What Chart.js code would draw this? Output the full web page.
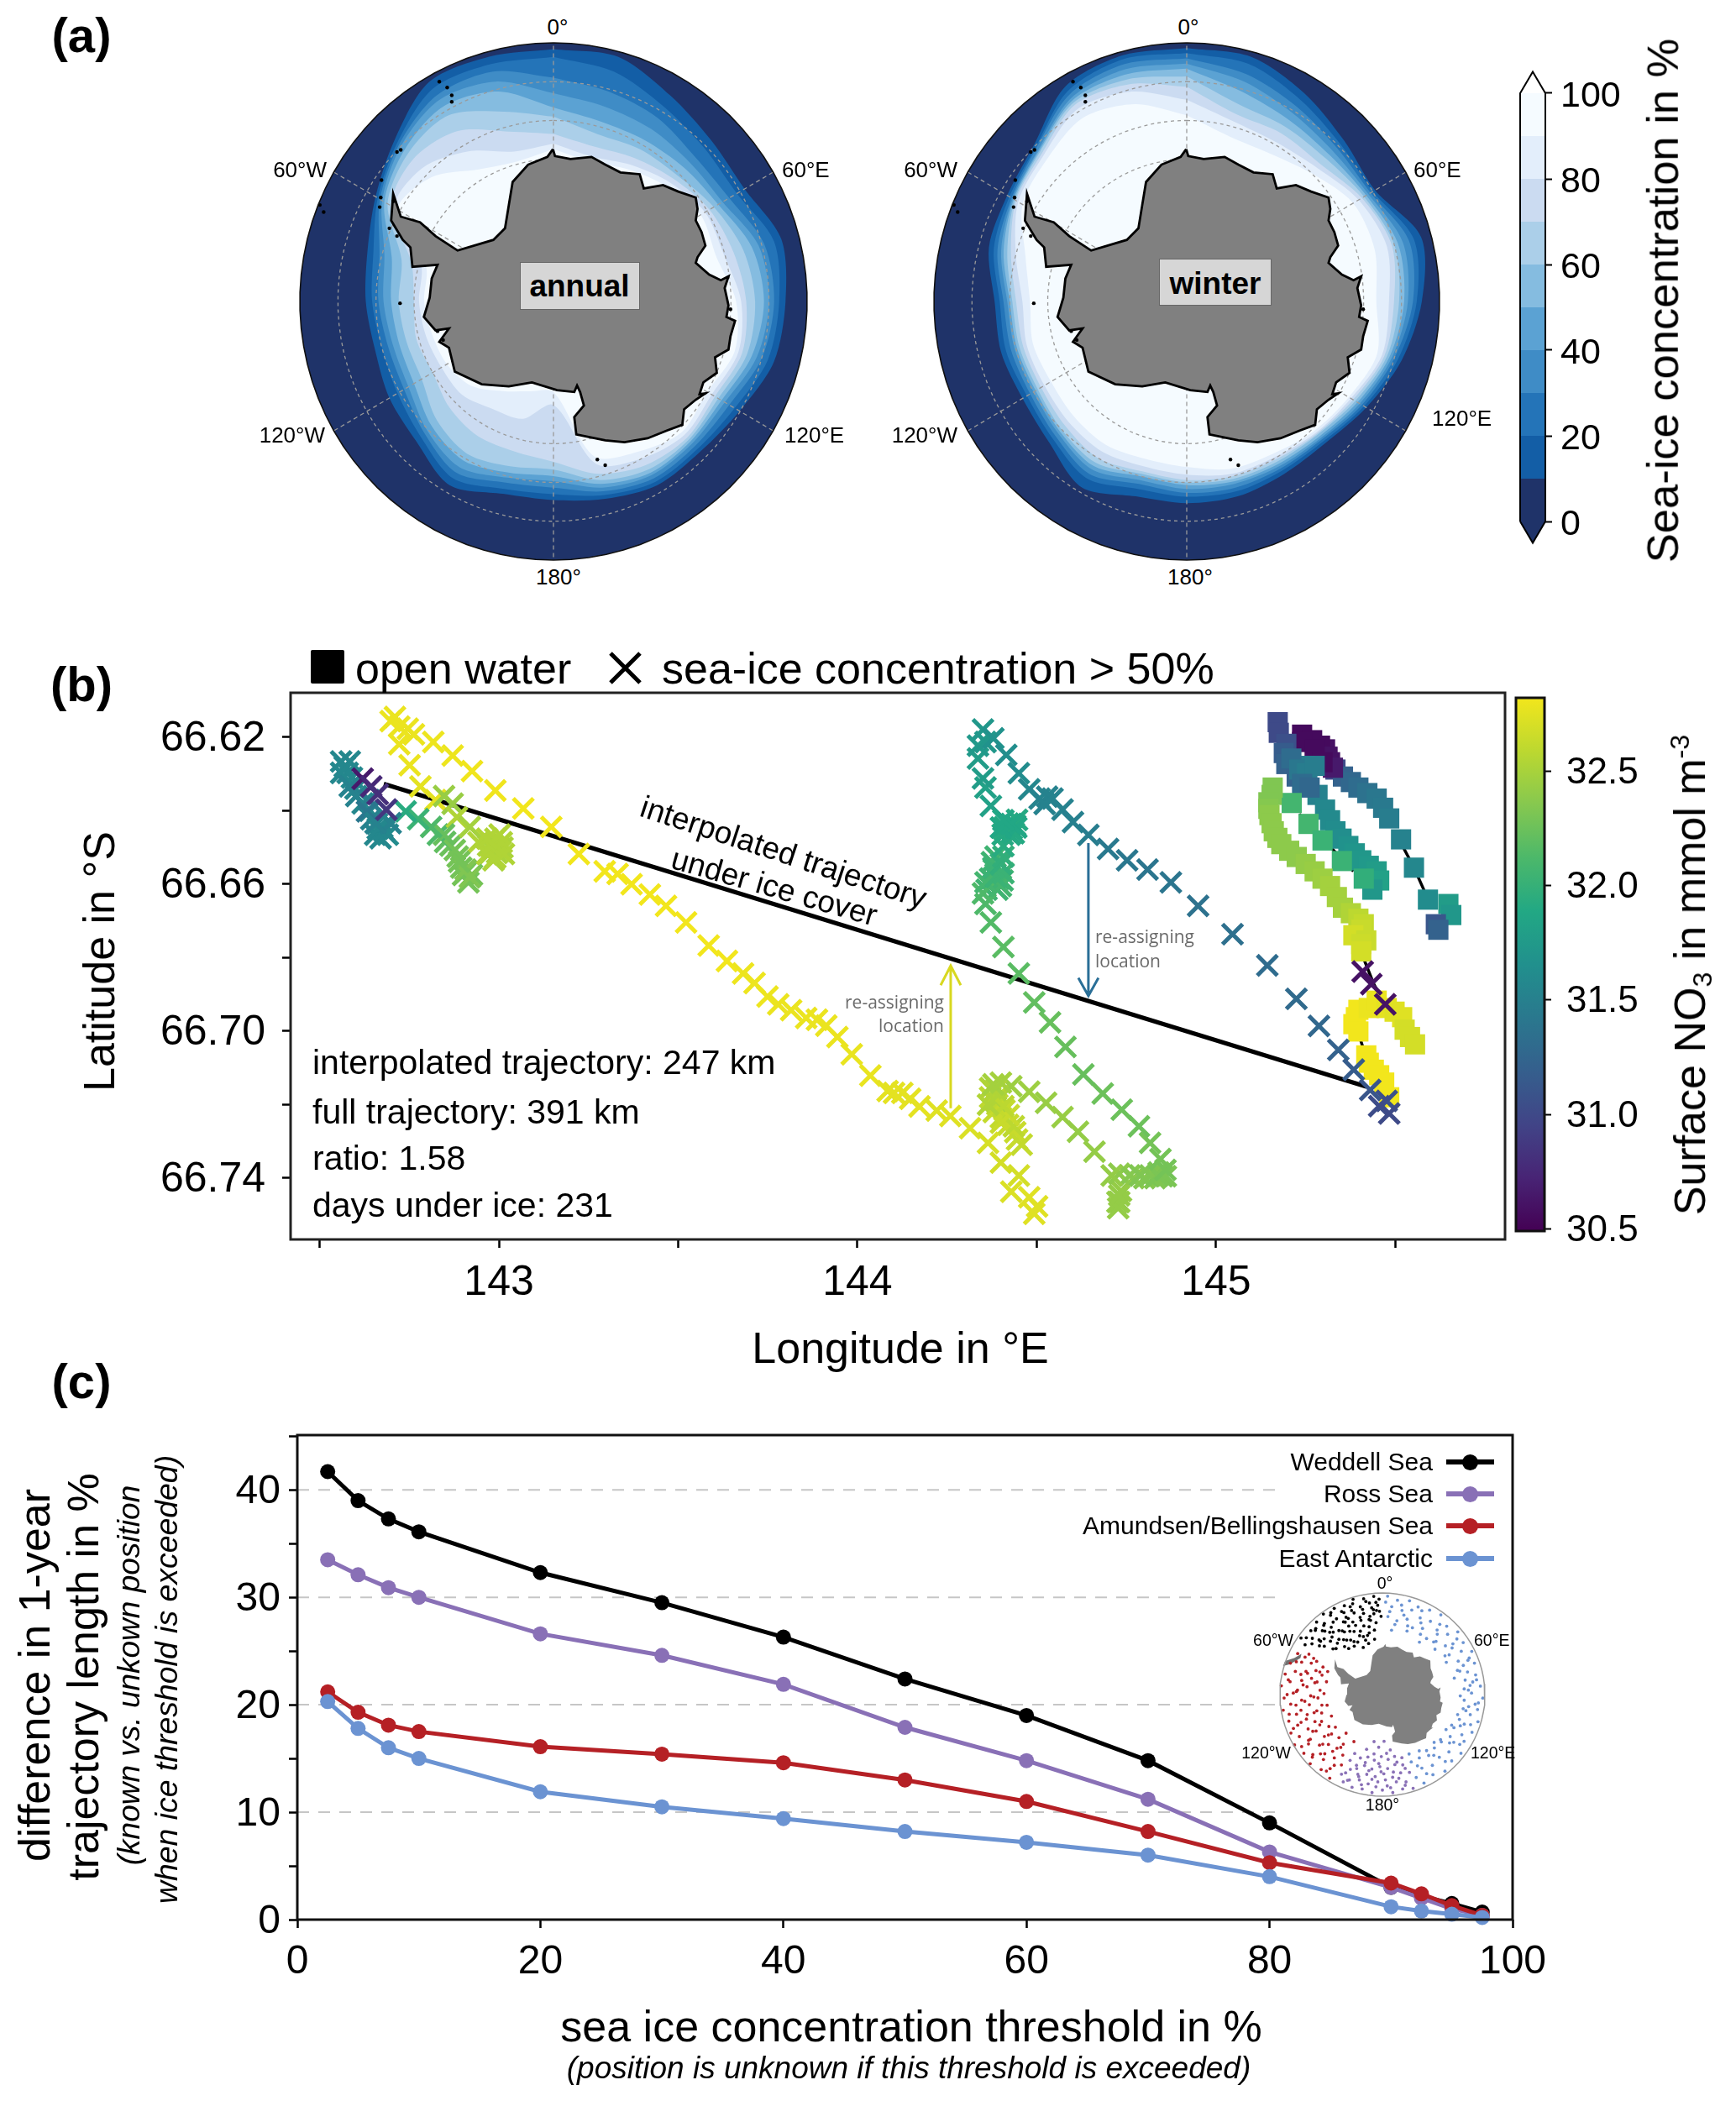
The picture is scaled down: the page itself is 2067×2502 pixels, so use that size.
<!DOCTYPE html>
<html>
<head>
<meta charset="utf-8">
<title>Sea-ice concentration and trajectory length</title>
<script src="https://cdn.jsdelivr.net/npm/chart.js@4"></script>
<style>
	html, body { margin: 0; background: #fff; }
	body { position: relative; width: 2067px; height: 2502px; overflow: hidden; font-family: "Liberation Sans", sans-serif; }
	canvas { position: absolute; }
	.txt { position: absolute; white-space: nowrap; color: #000; line-height: 1; }
</style>
</head>
<body>
<script>
// ---------- panel (a): contour radii per longitude, 100 = map rim ----------
const contourLon = [0, 15, 30, 45, 60, 75, 90, 105, 120, 135, 150, 165, 180, 195, 210, 225, 240, 255, 270, 285, 300, 315, 330, 345];

const annual10 = [97.6, 98, 92, 88, 87, 93, 91.5, 90, 84.7, 82, 82, 79, 76.8, 77, 82, 76.5, 74.7, 72.8, 74, 75.9, 81, 88.5, 98, 98];
const annual20 = [94.6, 92, 87, 84, 83.5, 90, 89, 87.5, 82.5, 80.5, 80.5, 77.5, 74.5, 75, 79, 74, 71, 70, 71.5, 73.5, 80, 87, 95, 95];
const annual30 = [86.5, 84, 82, 79, 80, 86, 87, 85, 80, 79, 79, 76, 72, 72.5, 76.5, 72, 68, 67.5, 69, 71, 79, 86, 92, 92];
const annual40 = [80.5, 78, 77, 76, 77, 83.7, 85, 83, 78, 77.5, 77.5, 74.5, 69.5, 70.5, 74, 70.5, 66, 65.5, 67, 69, 78, 85, 90, 88];
const annual50 = [75, 72, 72, 73, 75, 81, 83, 81, 76.5, 76.5, 76.5, 73, 67.5, 68.5, 71, 68, 63.5, 63, 64, 66, 77, 83, 87, 84];
const annual60 = [71.5, 67, 68, 69, 73, 77.4, 79.5, 79, 75, 75.5, 75, 71.5, 65, 66, 68, 65, 60, 60, 61, 62, 75.5, 81, 83, 76];
const annual70 = [64.8, 62, 64, 67, 71, 73.5, 76, 77, 73.5, 74.5, 73, 69, 62, 60, 60, 58, 55, 56, 55, 58, 74, 78, 76, 68];
const annual80 = [61, 58, 61, 65, 69, 69.6, 74, 75.5, 72, 73, 70, 65, 40, 47, 48, 51, 51, 52, 53, 54, 72.5, 73, 67, 60];
const annual90 = [58.9, 56, 59, 63, 67, 66.5, 72, 74, 70, 71.5, 67, 62, 35, 36, 40, 46, 48.5, 49.5, 51, 52, 71, 68, 59, 56];

const winter10 = [98, 98, 93, 88, 86, 96, 93, 88, 82, 77.5, 77, 78, 78, 78, 83, 77, 75, 76, 76, 81, 82, 85.5, 96, 98.5];
const winter20 = [96, 95, 90, 86, 85, 93, 91, 86.5, 81, 76.5, 75.5, 76, 75.5, 75, 79, 75, 73, 74, 74, 79, 81, 84.5, 94, 97];
const winter30 = [94, 91, 87, 84, 84, 91, 89.5, 85, 80, 75.5, 74.5, 74.5, 74, 73, 77, 73.5, 71.5, 72, 72.5, 77.5, 80, 84, 92.5, 95];
const winter40 = [92, 88, 84, 82, 83, 88.5, 87.5, 84, 79, 74.8, 73.5, 73, 72.5, 71.5, 75, 72, 70, 70.5, 71, 76, 79.5, 83, 91, 93];
const winter50 = [90, 84, 81, 80, 82, 86.5, 86, 83, 78, 74, 72.5, 72, 71, 70, 73.5, 71, 69, 69.5, 70, 75, 79, 82.5, 90, 91];
const winter60 = [87, 79, 78, 78, 81, 85, 84, 82, 77, 73, 71.5, 71, 70, 69, 72, 70, 68, 68.5, 69, 73.5, 78.5, 82, 89, 89];
const winter70 = [83, 75, 75, 75, 80, 84, 82, 81, 76, 72.5, 70.5, 70, 69, 68, 70, 68, 66.5, 67, 67.5, 72, 78, 81, 88, 87];
const winter80 = [78, 72, 71, 73, 78.5, 82, 80, 80, 75, 72, 69.5, 69, 67, 66, 67, 66, 65, 65.5, 65, 70, 77, 80, 86, 84];
const winter90 = [72, 66, 66, 70, 76, 77, 75, 78, 74, 71, 68, 67, 64, 63, 64, 63, 62, 63, 62, 66, 75, 78, 82, 79];

const iceLevels = [0, 10, 20, 30, 40, 50, 60, 70, 80, 90];
const iceColors = ["#1f3369", "#135ea6", "#2474b8", "#3f8cc6", "#5ba2d3", "#85bce0", "#abcfe9", "#cbdbf1", "#e3eefb", "#f5fbff"];
const iceTicks = [0, 20, 40, 60, 80, 100];

// Antarctica outline and islands in map units
const landX = [-0.2, 0.6, 6.7, 15, 20.4, 26.4, 34, 35.6, 43.2, 49.2, 56.1, 56.8, 56.1, 58.4, 59.9, 56.8, 56.1, 61.4, 66, 69, 67.5, 69, 68.2, 71.6, 69.8, 69, 63.7, 64.4, 59.1, 57.6, 59.9, 56.1, 51.5, 50.8, 44.7, 37.1, 28, 20.4, 9, 8.2, 12, 10.5, 9.3, 8.2, 1.4, -8.5, -17.6, -28.3, -38.9, -41.2, -45, -41.2, -46.5, -51.1, -48.8, -48, -45.7, -55.6, -56.4, -59.4, -64, -63.2, -60.2, -52.6, -46.5, -37.8, -23.7, -19.1, -17.6, -16.1, -10, -2.4, -0.2];
const landY = [58.9, 56.2, 55.1, 55.9, 52.9, 49.9, 49.2, 43.7, 45, 42.5, 40.2, 35.8, 31.3, 26.8, 21.6, 17.1, 14.9, 10.4, 8.2, 9.7, 5.2, -1.5, -6, -7.5, -13.4, -18.6, -21.6, -27.6, -31.3, -35.8, -35.5, -38, -41.7, -47.7, -49.9, -52.9, -54.4, -53.7, -51.4, -44.7, -40.2, -35, -32.5, -35, -34.3, -31.3, -32.8, -32, -27.1, -17.9, -15.6, -10.4, -11.2, -6, 1.5, 8.9, 14.2, 13.4, 20.9, 23.8, 31.3, 41.7, 32.8, 30.6, 25.3, 19.7, 23.8, 28.3, 37.3, 46.2, 52.9, 55.9, 58.9];
const islandX = [-60.2, -61.7, -67.8, -68.1, -68.5, -92.1, -90.6, -60.5, 17.3, 20.4, 69.8, -45, -41.9, -40.1, -40.1, -63.2, -64.7, -61.7, -45.7, -43.5];
const islandY = [58.6, 57.8, 46.9, 40.2, 36.5, 37.3, 34.6, -0.7, -61.1, -63.3, -3, 85, 82.7, 79.7, 77.2, 38.7, 28.3, 25.3, -11.5, -14.9];
const tipX = [-97, -90, -80, -79, -86, -95, -97];
const tipY = [28, 30, 36, 40, 36, 33, 28];

// ---------- panel (b): trajectory ----------
// sea-ice points (crosses), one group per stretch of the track
const mainLon = [142.71, 142.698, 142.722, 142.746, 142.763, 142.817, 142.871, 142.925, 142.99, 143.068, 143.146, 143.223, 143.295, 143.331, 143.37, 143.421, 143.466, 143.522, 143.585, 143.636, 143.681, 143.713, 143.749, 143.779, 143.815, 143.857, 143.887, 143.913, 143.944, 143.984, 144.036, 144.084, 144.102, 144.125, 144.147, 144.173, 144.221, 144.259, 144.314, 144.364, 144.4, 144.45, 144.429, 144.479, 144.493, 144.501];
const mainLat = [66.6145, 66.6156, 66.6171, 66.6177, 66.6192, 66.6213, 66.625, 66.6292, 66.6345, 66.6394, 66.6444, 66.6518, 66.6565, 66.6572, 66.66, 66.6628, 66.6659, 66.6704, 66.6767, 66.6809, 66.6843, 66.6869, 66.6906, 66.6927, 66.6943, 66.6964, 66.6969, 66.6985, 66.7016, 66.7063, 66.7121, 66.7163, 66.7168, 66.7168, 66.7184, 66.7205, 66.7216, 66.7231, 66.7264, 66.7304, 66.7358, 66.7393, 66.7437, 66.7452, 66.7497, 66.7477];
const mainNo3 = [32.75, 32.75, 32.75, 32.75, 32.75, 32.76, 32.76, 32.77, 32.77, 32.78, 32.78, 32.78, 32.78, 32.78, 32.78, 32.78, 32.78, 32.78, 32.78, 32.78, 32.76, 32.76, 32.76, 32.75, 32.75, 32.75, 32.75, 32.75, 32.75, 32.74, 32.74, 32.72, 32.72, 32.72, 32.72, 32.72, 32.7, 32.7, 32.68, 32.66, 32.65, 32.65, 32.68, 32.7, 32.7, 32.7];

const wanderLon = [144.4, 144.436, 144.458, 144.422, 144.386, 144.386, 144.379, 144.407, 144.364, 144.4];
const wanderLat = [66.7249, 66.7259, 66.7309, 66.7229, 66.719, 66.716, 66.7145, 66.7204, 66.72, 66.714];
const wanderNo3 = [32.6, 32.55, 32.58, 32.6, 32.5, 32.5, 32.45, 32.55, 32.5, 32.45];

const sideLon = [144.429, 144.479, 144.526, 144.572, 144.615, 144.661, 144.709];
const sideLat = [66.715, 66.7165, 66.7195, 66.7234, 66.7274, 66.7328, 66.7393];
const sideNo3 = [32.42, 32.42, 32.4, 32.4, 32.38, 32.38, 32.38];

const greenLon = [144.727, 144.73, 144.73, 144.759, 144.788, 144.816, 144.838, 144.859, 144.845, 144.816, 144.785, 144.737, 144.684, 144.63, 144.58, 144.537, 144.493, 144.45, 144.407, 144.372, 144.357, 144.35, 144.4, 144.357, 144.386, 144.407, 144.379, 144.4, 144.407, 144.407, 144.436, 144.415, 144.443, 144.4, 144.429, 144.407];
const greenLat = [66.7482, 66.7447, 66.7388, 66.7393, 66.7393, 66.7393, 66.7393, 66.7378, 66.7348, 66.7304, 66.7259, 66.7214, 66.717, 66.7118, 66.7043, 66.6976, 66.6922, 66.6843, 66.6771, 66.6704, 66.6654, 66.6625, 66.6605, 66.6595, 66.658, 66.657, 66.6555, 66.6545, 66.6525, 66.6496, 66.6461, 66.6456, 66.6446, 66.6446, 66.6436, 66.6426];
const greenNo3 = [32.38, 32.38, 32.35, 32.32, 32.3, 32.3, 32.28, 32.25, 32.25, 32.25, 32.22, 32.22, 32.22, 32.2, 32.2, 32.2, 32.18, 32.15, 32.15, 32.12, 32.1, 32.1, 32.05, 32.05, 32, 32, 32, 31.95, 31.95, 31.9, 31.88, 31.88, 31.85, 31.85, 31.85, 31.85];

const tealLon = [144.372, 144.357, 144.35, 144.336, 144.336, 144.357, 144.35, 144.379, 144.415, 144.45, 144.479, 144.508, 144.529, 144.544, 144.522, 144.572, 144.601, 144.644, 144.699, 144.752, 144.809, 144.874, 144.95, 145.046, 145.143, 145.224, 145.287, 145.341, 145.384, 145.43, 145.476, 145.455, 145.483];
const tealLat = [66.6387, 66.6337, 66.6312, 66.6258, 66.6223, 66.6213, 66.6179, 66.6203, 66.6248, 66.6298, 66.6342, 66.6367, 66.6362, 66.6367, 66.6382, 66.6397, 66.6431, 66.6466, 66.6504, 66.6535, 66.656, 66.6595, 66.6659, 66.6736, 66.6821, 66.6912, 66.6986, 66.7051, 66.7105, 66.716, 66.719, 66.7204, 66.7224];
const tealNo3 = [31.8, 31.8, 31.75, 31.75, 31.72, 31.7, 31.7, 31.65, 31.62, 31.6, 31.55, 31.52, 31.5, 31.5, 31.5, 31.5, 31.48, 31.45, 31.42, 31.4, 31.38, 31.38, 31.35, 31.33, 31.3, 31.28, 31.25, 31.2, 31.15, 31.1, 31.05, 31.02, 31];

const darkLon = [145.409, 145.433, 145.472];
const darkLat = [66.6838, 66.6872, 66.6927];
const darkNo3 = [30.6, 30.6, 30.6];

const westLon = [142.722, 142.751, 142.781, 142.823, 142.847, 142.871, 142.883, 142.919, 142.943, 142.967, 142.99, 143.008, 142.99, 143.014, 142.978, 143.002, 142.967, 142.919, 142.907, 142.889, 142.877, 142.847, 142.811, 142.775, 142.74, 142.584, 142.56, 142.578, 142.56, 142.584, 142.602, 142.638, 142.644, 142.68, 142.662, 142.698, 142.632, 142.656, 142.62, 142.644, 142.662, 142.686];
const westLat = [66.6219, 66.6276, 66.6334, 66.6371, 66.636, 66.6381, 66.6418, 66.6444, 66.6486, 66.6518, 66.6476, 66.6486, 66.6528, 66.6518, 66.6497, 66.6465, 66.6476, 66.6581, 66.656, 66.6539, 66.6507, 66.6465, 66.6444, 66.6423, 66.6402, 66.6266, 66.6266, 66.6297, 66.6297, 66.6334, 66.636, 66.6371, 66.6423, 66.6455, 66.6449, 66.6434, 66.6402, 66.6434, 66.6313, 66.6334, 66.6355, 66.6397];
const westNo3 = [32.75, 32.75, 32.72, 32.72, 32.4, 32.4, 32.5, 32.45, 32.5, 32.5, 32.5, 32.5, 32.5, 32.5, 32.5, 32.5, 32.5, 32.3, 32.3, 32.25, 32.25, 32.2, 32.1, 32, 31.9, 31.55, 31.55, 31.55, 31.55, 31.5, 31.5, 31.45, 31.5, 31.55, 31.55, 31.5, 31.4, 31.5, 30.65, 30.75, 30.8, 30.85];

// dense knots where the float hardly moved
const knotLon = [144.42, 144.43, 144.41, 144.44, 144.425, 144.405, 144.445, 144.38, 144.395, 144.37, 144.39, 144.375, 144.405, 144.36, 144.385, 144.38, 144.395, 144.37, 144.39, 144.41, 144.38, 144.4, 144.42, 144.44, 144.445, 144.37, 144.84, 144.85, 144.86, 144.83, 144.8, 144.77, 144.73, 144.725, 144.735, 142.985, 143, 142.975, 142.995, 143.005, 142.985, 142.97, 143.01, 142.91, 142.925, 142.9, 142.915, 142.895, 142.885, 142.865, 142.85, 142.83, 142.66, 142.675, 142.69, 142.655, 142.67, 142.64, 142.62, 142.6, 142.57, 142.59];
const knotLat = [66.6435, 66.645, 66.6445, 66.644, 66.6465, 66.6465, 66.6425, 66.656, 66.6585, 66.6585, 66.6615, 66.654, 66.659, 66.6615, 66.6525, 66.7165, 66.7175, 66.718, 66.72, 66.7215, 66.722, 66.7235, 66.7255, 66.7275, 66.7295, 66.7155, 66.7385, 66.7395, 66.7395, 66.74, 66.74, 66.74, 66.7465, 66.7465, 66.7435, 66.65, 66.65, 66.6515, 66.6515, 66.651, 66.6535, 66.6495, 66.65, 66.6565, 66.6575, 66.6575, 66.6595, 66.6555, 66.6525, 66.6495, 66.6485, 66.6465, 66.6435, 66.6445, 66.6465, 66.6465, 66.6475, 66.64, 66.638, 66.634, 66.628, 66.631];
const knotNo3 = [31.88, 31.88, 31.88, 31.88, 31.88, 31.88, 31.88, 32.02, 32.02, 32.02, 32.02, 32.02, 32.02, 32.02, 32.02, 32.55, 32.55, 32.55, 32.55, 32.58, 32.58, 32.58, 32.6, 32.6, 32.6, 32.5, 32.28, 32.28, 32.28, 32.3, 32.32, 32.34, 32.38, 32.38, 32.38, 32.48, 32.48, 32.48, 32.48, 32.48, 32.48, 32.48, 32.48, 32.25, 32.25, 32.25, 32.25, 32.25, 32.25, 32.22, 32.18, 32.1, 31.55, 31.55, 31.6, 31.55, 31.55, 31.5, 31.55, 31.55, 31.55, 31.55];

// open water points (squares)
const upperLon = [145.24, 145.268, 145.304, 145.318, 145.333, 145.354, 145.376, 145.397, 145.422, 145.448, 145.466, 145.483, 145.516, 145.552, 145.591, 145.648, 145.656, 145.613, 145.62, 145.29, 145.311, 145.326, 145.24, 145.275, 145.297];
const upperLat = [66.6193, 66.6208, 66.6233, 66.6268, 66.6288, 66.6307, 66.6322, 66.6337, 66.6352, 66.6367, 66.6392, 66.6421, 66.6478, 66.6555, 66.6642, 66.6654, 66.6684, 66.6709, 66.6724, 66.6223, 66.6253, 66.6283, 66.6213, 66.6233, 66.6268];
const upperNo3 = [30.55, 30.55, 30.6, 30.6, 31, 31.2, 31.25, 31.3, 31.35, 31.4, 31.42, 31.45, 31.5, 31.55, 31.6, 31.75, 31.7, 31.1, 31.2, 30.55, 30.6, 30.65, 30.55, 30.55, 30.55];

const lowerLon = [145.172, 145.175, 145.196, 145.189, 145.196, 145.225, 145.247, 145.254, 145.283, 145.304, 145.318, 145.333, 145.35, 145.369, 145.387, 145.405, 145.426, 145.448, 145.455, 145.436, 145.21, 145.232, 145.254, 145.275, 145.24, 145.261];
const lowerLat = [66.6159, 66.6188, 66.6218, 66.6243, 66.6273, 66.6307, 66.6278, 66.6317, 66.6357, 66.6397, 66.6426, 66.6456, 66.6476, 66.6496, 66.6516, 66.6535, 66.655, 66.6565, 66.659, 66.6615, 66.6258, 66.6288, 66.6298, 66.6278, 66.6327, 66.6337];
const lowerNo3 = [31, 31, 31.05, 31.15, 31.2, 31.2, 31.45, 31.35, 31.5, 31.55, 31.58, 31.6, 31.62, 31.65, 31.68, 31.7, 31.72, 31.75, 31.8, 31.7, 31.3, 31.4, 31.45, 31.45, 31.3, 31.25];

const midLon = [145.211, 145.258, 145.297, 145.351, 145.412];
const midLat = [66.6379, 66.6436, 66.6481, 66.6537, 66.6585];
const midNo3 = [32.05, 32.05, 32, 32, 31.95];

const limeLon = [145.158, 145.155, 145.146, 145.146, 145.149, 145.155, 145.161, 145.171, 145.182, 145.204, 145.225, 145.25, 145.275, 145.297, 145.318, 145.337, 145.354, 145.376, 145.397, 145.412, 145.405, 145.383, 145.419, 145.405, 145.405];
const limeLat = [66.6337, 66.6357, 66.6377, 66.6395, 66.6412, 66.6434, 66.6456, 66.6474, 66.6491, 66.6509, 66.6526, 66.6545, 66.6565, 66.6585, 66.6605, 66.6635, 66.6664, 66.6679, 66.6694, 66.6709, 66.6724, 66.6739, 66.6753, 66.6763, 66.6783];
const limeNo3 = [32.3, 32.3, 32.3, 32.32, 32.35, 32.35, 32.35, 32.35, 32.35, 32.35, 32.35, 32.38, 32.4, 32.42, 32.45, 32.45, 32.45, 32.5, 32.55, 32.58, 32.6, 32.65, 32.6, 32.62, 32.65];

const yellowLon = [145.39, 145.383, 145.397, 145.397, 145.426, 145.448, 145.476, 145.498, 145.519, 145.526, 145.541, 145.555, 145.419, 145.426, 145.44, 145.455, 145.469, 145.483];
const yellowLat = [66.6962, 66.6981, 66.7001, 66.6942, 66.6937, 66.6917, 66.6937, 66.6947, 66.6962, 66.6996, 66.7016, 66.7036, 66.7066, 66.7086, 66.7105, 66.712, 66.714, 66.718];
const yellowNo3 = [32.8, 32.8, 32.8, 32.78, 32.75, 32.75, 32.72, 32.7, 32.7, 32.65, 32.65, 32.65, 32.8, 32.8, 32.8, 32.8, 32.8, 32.8];

// interpolated straight line and the visible bits of the drift under the squares
const interpLon = [142.679, 145.419];
const interpLat = [66.6327, 66.7151];
const driftLon = [145.512, 145.552, 145.584, null, 145.412, 145.44, 145.472, null, 145.402, 145.412, null, 145.232, 145.326, 145.383];
const driftLat = [66.6481, 66.6555, 66.6625, null, 66.6803, 66.6872, 66.6927, null, 66.7021, 66.7051, null, 66.6409, 66.6506, 66.6565];

// re-assigning arrows
const arrowUpLon = [144.26, 144.26, null, 144.232, 144.26, 144.288];
const arrowUpLat = [66.721, 66.6822, null, 66.6875, 66.6822, 66.6875];
const arrowDownLon = [144.644, 144.644, null, 144.616, 144.644, 144.672];
const arrowDownLat = [66.6488, 66.6904, null, 66.6855, 66.6904, 66.6855];

const lonTicks = [142.5, 143, 143.5, 144, 144.5, 145, 145.5];
const lonTickLabels = ["", "143", "", "144", "", "145", ""];
const latTicks = [66.62, 66.64, 66.66, 66.68, 66.70, 66.72, 66.74];
const latTickLabels = ["66.62", "", "66.66", "", "66.70", "", "66.74"];
const no3Ticks = [30.5, 31, 31.5, 32, 32.5];
const viridisStops = ["#440154", "#482475", "#414487", "#355f8d", "#2a788e", "#21908d", "#22a884", "#4cb86a", "#86c84f", "#bcd830", "#f2e61c"];

// ---------- panel (c) ----------
const thresholds = [2.5, 5, 7.5, 10, 20, 30, 40, 50, 60, 70, 80, 90, 92.5, 95, 97.5];
const weddell = [41.7, 39, 37.3, 36.1, 32.3, 29.5, 26.3, 22.4, 19, 14.8, 9, 3, 2.2, 1.5, 0.7];
const ross = [33.5, 32.1, 30.9, 30, 26.6, 24.6, 21.9, 17.9, 14.8, 11.2, 6.3, 3, 2, 1, 0.4];
const amundsen = [21.2, 19.3, 18.1, 17.5, 16.1, 15.4, 14.6, 13, 11, 8.2, 5.3, 3.4, 2.4, 1.3, 0.4];
const eastAnt = [20.3, 17.8, 16, 15, 11.9, 10.5, 9.4, 8.2, 7.2, 6, 4, 1.2, 0.8, 0.5, 0.2];
const dashLevels = [10, 20, 30, 40];
const dashEnd = 80.5;
const thresholdTicks = [0, 20, 40, 60, 80, 100];
const diffTicks = [0, 5, 10, 15, 20, 25, 30, 35, 40, 45];
const diffTickLabels = ["0", "", "10", "", "20", "", "30", "", "40", ""];

// inset map: sample positions per basin, as longitude and radius
const blackLon = [305, 312, 318, 324, 331, 337, 343, 349, 355, 358, 303, 309, 315, 321, 327, 334, 340, 346, 352, 357, 306, 311, 317, 323, 329, 335, 341, 347, 353, 356, 308, 314, 320, 326, 332, 338, 344, 350, 354, 359, 310, 316, 322, 328, 333, 339, 345, 351, 355, 313, 319, 325, 330, 336, 342, 348, 315, 322, 330, 338, 345, 352, 335, 343, 307, 314, 320, 328, 335, 342, 350, 356, 318, 326, 333, 340, 347, 354, 322, 329, 336, 344, 351, 358, 311, 319, 327, 334, 341, 349, 324, 332, 339, 346, 353];
const blackR = [97, 94, 96, 98, 97, 95, 98, 96, 97, 94, 90, 88, 92, 90, 93, 91, 92, 89, 91, 88, 85, 82, 86, 83, 87, 84, 85, 82, 86, 83, 78, 79, 80, 76, 81, 77, 79, 75, 80, 77, 74, 73, 69, 74, 70, 73, 70, 74, 71, 66, 67, 66, 62, 68, 60, 62, 64, 60, 55, 50, 52, 55, 57, 56, 93, 91, 89, 95, 89, 94, 93, 91, 84, 86, 80, 88, 86, 84, 78, 72, 82, 76, 78, 82, 80, 75, 64, 75, 66, 68, 56, 59, 62, 60, 64];
const eastLon = [3, 9, 16, 22, 29, 36, 43, 50, 57, 64, 71, 78, 85, 92, 99, 106, 113, 120, 127, 134, 141, 148, 155, 6, 13, 19, 26, 33, 40, 47, 54, 61, 68, 75, 82, 89, 96, 103, 110, 117, 124, 131, 138, 145, 152, 158, 4, 11, 18, 24, 31, 38, 45, 52, 59, 66, 73, 80, 87, 94, 101, 108, 115, 122, 129, 136, 143, 150, 8, 21, 35, 49, 63, 77, 91, 105, 119, 133, 147, 156, 2, 12, 25, 39, 53, 67, 81, 95, 109, 123, 137, 151, 5, 15, 28, 42, 56, 70, 84, 98, 112, 126, 140, 154, 10, 20, 32, 44, 58, 72, 86, 100, 114, 128, 142, 157];
const eastR = [97, 94, 96, 93, 95, 97, 92, 96, 94, 97, 95, 93, 96, 98, 94, 97, 95, 92, 96, 94, 97, 93, 96, 87, 85, 88, 84, 86, 83, 87, 85, 88, 90, 86, 89, 87, 91, 88, 85, 87, 84, 86, 83, 85, 82, 88, 77, 74, 78, 72, 76, 70, 74, 78, 76, 81, 79, 82, 84, 80, 83, 79, 77, 78, 74, 73, 75, 72, 64, 67, 63, 68, 70, 72, 76, 76, 71, 69, 66, 64, 91, 90, 91, 89, 91, 92, 93, 94, 91, 90, 90, 89, 82, 81, 80, 80, 82, 84, 86, 85, 82, 81, 78, 78, 70, 72, 70, 72, 72, 77, 80, 80, 74, 72, 70, 72];
const redLon = [212, 219, 226, 233, 240, 247, 254, 261, 268, 275, 282, 289, 296, 215, 222, 229, 236, 243, 250, 257, 264, 271, 278, 285, 292, 299, 210, 217, 224, 231, 238, 245, 252, 259, 266, 273, 280, 287, 294, 213, 220, 227, 234, 241, 248, 255, 262, 269, 276, 283, 290, 297, 218, 225, 232, 239, 246, 253, 260, 267, 274, 281, 288, 295, 211, 223, 235, 247, 259, 271, 283, 293, 216, 228, 237, 249, 258, 270, 279, 291, 214, 226, 238, 251, 263, 272, 284, 296, 221, 230, 242, 255, 265, 277, 286, 298, 218, 233, 244, 256, 268, 280, 290];
const redR = [97, 95, 98, 96, 99, 97, 95, 98, 96, 99, 97, 95, 92, 89, 86, 90, 87, 91, 88, 86, 90, 87, 91, 88, 85, 82, 80, 78, 81, 79, 83, 80, 78, 81, 79, 83, 80, 78, 76, 71, 69, 72, 70, 74, 71, 69, 72, 70, 74, 71, 69, 72, 62, 60, 63, 61, 65, 62, 60, 63, 61, 65, 62, 64, 54, 52, 56, 54, 55, 57, 56, 58, 93, 92, 94, 93, 93, 93, 93, 90, 84, 84, 85, 84, 85, 84, 82, 84, 74, 76, 77, 76, 76, 78, 76, 76, 66, 66, 68, 66, 67, 67, 65];
const purpleLon = [162, 168, 174, 180, 186, 192, 198, 204, 165, 171, 177, 183, 189, 195, 201, 207, 161, 167, 173, 179, 185, 191, 197, 203, 164, 170, 176, 182, 188, 194, 200, 206, 163, 169, 175, 181, 187, 193, 199, 205, 172, 184, 196, 178, 190, 166, 175, 184, 193, 202, 169, 178, 187, 196, 205, 163, 172, 181, 190, 199, 168, 183, 194, 176, 188];
const purpleR = [97, 95, 97, 94, 97, 95, 96, 94, 89, 87, 90, 86, 89, 87, 90, 88, 81, 79, 82, 78, 81, 80, 82, 80, 72, 70, 73, 71, 74, 72, 74, 72, 65, 62, 64, 61, 65, 63, 66, 64, 55, 52, 56, 46, 47, 92, 92, 91, 91, 91, 84, 84, 84, 84, 85, 76, 77, 76, 76, 77, 68, 68, 69, 58, 59];

// ---------- helpers ----------
Chart.defaults.font.family = "'Liberation Sans', sans-serif";
Chart.defaults.color = "#000";
Chart.defaults.animation = false;

function addCanvas(left, top, width, height) {
	const c = document.createElement("canvas");
	c.width = width;
	c.height = height;
	c.style.left = left + "px";
	c.style.top = top + "px";
	document.body.appendChild(c);
	return c;
}

// opts: align l/c/r, rot in degrees, bold, italic, color, font
function addText(html, x, y, size, opts = {}) {
	const d = document.createElement("div");
	d.className = "txt";
	d.innerHTML = html;
	d.style.left = x + "px";
	d.style.top = y + "px";
	d.style.fontSize = size + "px";
	if (opts.bold) d.style.fontWeight = "bold";
	if (opts.italic) d.style.fontStyle = "italic";
	if (opts.color) d.style.color = opts.color;
	if (opts.font) d.style.fontFamily = opts.font;
	const shift = { l: "0", c: "-50%", r: "-100%" }[opts.align || "c"];
	d.style.transform = `translate(${shift}, -50%)` + (opts.rot ? ` rotate(${opts.rot}deg)` : "");
	document.body.appendChild(d);
	return d;
}

function addBox(x, y, w, h, css) {
	const d = document.createElement("div");
	d.style.cssText = `position:absolute;left:${x}px;top:${y}px;width:${w}px;height:${h}px;box-sizing:border-box;${css}`;
	document.body.appendChild(d);
	return d;
}

function zipPoints(xs, ys) {
	return xs.map((x, i) => ({ x: x, y: ys[i] }));
}

// longitude / radius to map coordinates, 0° up and east to the right
function polarPoints(lons, radii) {
	return lons.map((lon, i) => ({
		x: radii[i] * Math.sin(lon * Math.PI / 180),
		y: radii[i] * Math.cos(lon * Math.PI / 180)
	}));
}

function closeLoop(points) {
	return points.concat([points[0]]);
}

function circlePoints(r) {
	const pts = [];
	for (let a = 0; a <= 360; a += 4) pts.push(polarPoints([a], [r])[0]);
	return pts;
}

function viridis(v, lo = 30.49, hi = 32.78) {
	const t = Math.min(Math.max((v - lo) / (hi - lo), 0), 1) * (viridisStops.length - 1);
	const i = Math.min(Math.floor(t), viridisStops.length - 2);
	const f = t - i;
	const rgb = s => [1, 3, 5].map(k => parseInt(s.substr(k, 2), 16));
	const a = rgb(viridisStops[i]), b = rgb(viridisStops[i + 1]);
	return `rgb(${a.map((c, k) => Math.round(c + (b[k] - c) * f)).join(",")})`;
}

// plain box round the plot area
const framePlugin = {
	id: "frame",
	afterDatasetsDraw(chart, args, opts) {
		if (!opts.width) return;
		const { left, top, width, height } = chart.chartArea;
		const ctx = chart.ctx;
		ctx.save();
		ctx.strokeStyle = opts.color || "#000";
		ctx.lineWidth = opts.width;
		ctx.strokeRect(left, top, width, height);
		ctx.restore();
	}
};
Chart.register(framePlugin);

function fixedAxis(values, labels, extra) {
	return Object.assign({
		afterBuildTicks: s => { s.ticks = values.map(v => ({ value: v })); },
		grid: { drawOnChartArea: false, drawTicks: true, tickLength: 10, tickColor: "#000", tickWidth: 2.5 },
		border: { display: false },
		ticks: { autoSkip: false, maxRotation: 0, minRotation: 0, callback: (v, i) => labels[i] }
	}, extra);
}

function polygon(points, color, extra) {
	return Object.assign({
		data: points, showLine: true, fill: "shape", backgroundColor: color,
		borderWidth: 0, pointRadius: 0, tension: 0, clip: false
	}, extra);
}

function strokeLine(points, color, width, extra) {
	return Object.assign({
		data: points, showLine: true, fill: false, borderColor: color,
		borderWidth: width, pointRadius: 0, tension: 0, clip: false
	}, extra);
}

function hiddenAxis(min, max) {
	return { type: "linear", display: false, min: min, max: max };
}

function drawMap(left, width, levels) {
	const gratColor = "#9a9a9a";
	const datasets = [];
	// first dataset ends up on top
	datasets.push(strokeLine(closeLoop(circlePoints(100)), "#111", 1.6));
	datasets.push({ data: zipPoints(islandX, islandY), pointRadius: 2.2, pointBackgroundColor: "#000", pointBorderWidth: 0, clip: false });
	datasets.push(polygon(zipPoints(landX, landY), "#808080", { borderColor: "#000", borderWidth: 2.8 }));
	[55, 70, 85].forEach(r => datasets.push(strokeLine(circlePoints(r), gratColor, 1.3, { borderDash: [4, 4] })));
	[0, 60, 120, 180, 240, 300].forEach(lon => {
		datasets.push(strokeLine(polarPoints([lon, lon], [30, 100]), gratColor, 1.3, { borderDash: [5, 4] }));
	});
	for (let i = levels.length - 1; i >= 0; i--) {
		datasets.push(polygon(closeLoop(polarPoints(contourLon, levels[i])), iceColors[i + 1], { tension: 0.3 }));
	}
	datasets.push(polygon(closeLoop(circlePoints(100)), iceColors[0]));
	new Chart(addCanvas(left, 47, width, 624), {
		type: "scatter",
		data: { datasets: datasets },
		options: {
			responsive: false,
			layout: { padding: 4 },
			scales: { x: hiddenAxis(-100, 100), y: hiddenAxis(-100, 100) },
			plugins: { legend: { display: false }, tooltip: { enabled: false } }
		}
	});
}

// ---------- panel (a) ----------
drawMap(353, 612, [annual10, annual20, annual30, annual40, annual50, annual60, annual70, annual80, annual90]);
drawMap(1108, 610, [winter10, winter20, winter30, winter40, winter50, winter60, winter70, winter80, winter90]);

addBox(619, 312, 143, 57, "background:#d6d6d6;border:1.5px solid #666;");
addText("annual", 690, 340, 37, { bold: true });
addBox(1380, 308, 134, 56, "background:#d6d6d6;border:1.5px solid #666;");
addText("winter", 1447, 337, 37, { bold: true });

[
	["0°", 664, 32, "c"], ["60°E", 931, 202, "l"], ["120°E", 934, 518, "l"],
	["180°", 665, 687, "c"], ["60°W", 389, 202, "r"], ["120°W", 387, 518, "r"],
	["0°", 1415, 32, "c"], ["60°E", 1683, 202, "l"], ["120°E", 1705, 498, "l"],
	["180°", 1417, 687, "c"], ["60°W", 1140, 202, "r"], ["120°W", 1140, 518, "r"]
].forEach(t => addText(t[0], t[1], t[2], 26, { align: t[3] }));

// sea-ice colour bar with its two end triangles
const iceBarSets = [strokeLine(
	zipPoints([0, 0.5, 1, 1, 0.5, 0, 0], [0, -5, 0, 100, 105, 100, 0]), "#000", 2)];
iceBarSets.push(polygon(zipPoints([0, 0.5, 1, 0], [100, 105, 100, 100]), "#fff"));
iceLevels.forEach((lo, i) => {
	iceBarSets.push(polygon(zipPoints([0, 1, 1, 0, 0], [lo, lo, lo + 10, lo + 10, lo]), iceColors[i]));
});
iceBarSets.push(polygon(zipPoints([0, 0.5, 1, 0], [0, -5, 0, 0]), iceColors[0]));
new Chart(addCanvas(1800, 40, 220, 660), {
	type: "scatter",
	data: { datasets: iceBarSets },
	options: {
		responsive: false,
		layout: { padding: { left: 10, top: 45.5, bottom: 53.5 } },
		scales: {
			x: hiddenAxis(0, 1),
			y: fixedAxis(iceTicks, iceTicks.map(String), {
				position: "right", min: -5, max: 105,
				afterFit: s => { s.width = 180; },
				ticks: { autoSkip: false, padding: 10, labelOffset: 4, font: { size: 43 }, callback: (v, i) => String(iceTicks[i]) },
				grid: { drawOnChartArea: false, tickLength: 8, tickColor: "#000", tickWidth: 2 }
			})
		},
		plugins: { legend: { display: false }, tooltip: { enabled: false } }
	}
});
addText("Sea-ice concentration in %", 1980, 358, 52.5, { rot: -90 });

addText("(a)", 97, 42, 58, { bold: true });
addText("(b)", 97, 815, 58, { bold: true });
addText("(c)", 97, 1645, 58, { bold: true });

// ---------- panel (b) ----------
const crossSets = [
	[mainLon, mainLat, mainNo3], [wanderLon, wanderLat, wanderNo3], [sideLon, sideLat, sideNo3],
	[greenLon, greenLat, greenNo3], [tealLon, tealLat, tealNo3], [darkLon, darkLat, darkNo3],
	[westLon, westLat, westNo3], [knotLon, knotLat, knotNo3]
];
const squareSets = [
	[yellowLon, yellowLat, yellowNo3], [limeLon, limeLat, limeNo3], [midLon, midLat, midNo3],
	[lowerLon, lowerLat, lowerNo3], [upperLon, upperLat, upperNo3]
];
const trajectorySets = [];
crossSets.forEach(s => trajectorySets.push({
	data: zipPoints(s[0], s[1]), pointStyle: "crossRot", pointRadius: 17,
	pointBorderColor: s[2].map(v => viridis(v)), pointBorderWidth: 5, pointBackgroundColor: "transparent"
}));
trajectorySets.push(strokeLine(zipPoints(arrowUpLon, arrowUpLat), "#d8d820", 3));
trajectorySets.push(strokeLine(zipPoints(arrowDownLon, arrowDownLat), "#2a6f97", 3));
trajectorySets.push(strokeLine(zipPoints(interpLon, interpLat), "#000", 5));
squareSets.forEach(s => trajectorySets.push({
	data: zipPoints(s[0], s[1]), pointStyle: "rect", pointRadius: 17,
	pointBackgroundColor: s[2].map(v => viridis(v)), pointBorderWidth: 0
}));
trajectorySets.push(strokeLine(zipPoints(driftLon, driftLat), "#000", 3.5));

new Chart(addCanvas(0, 760, 2067, 860), {
	type: "scatter",
	data: { datasets: trajectorySets },
	options: {
		responsive: false,
		layout: { padding: { top: 65, right: 275 } },
		scales: {
			x: fixedAxis(lonTicks, lonTickLabels, {
				min: 142.419, max: 145.806,
				afterFit: s => { s.height = 144; },
				ticks: { autoSkip: false, maxRotation: 0, padding: 12, font: { size: 50 }, callback: (v, i) => lonTickLabels[i] }
			}),
			y: fixedAxis(latTicks, latTickLabels, {
				min: 66.6079, max: 66.7567, reverse: true,
				afterFit: s => { s.width = 346; },
				ticks: { autoSkip: false, padding: 20, labelOffset: 2, font: { size: 50 }, callback: (v, i) => latTickLabels[i] }
			})
		},
		plugins: {
			legend: { display: false }, tooltip: { enabled: false },
			frame: { width: 3, color: "#222" }
		}
	}
});

// viridis colour bar
const no3Canvas = addCanvas(1795, 780, 230, 750);
const no3Gradient = no3Canvas.getContext("2d").createLinearGradient(0, 686, 0, 51);
viridisStops.forEach((c, i) => no3Gradient.addColorStop(i / (viridisStops.length - 1), c));
new Chart(no3Canvas, {
	type: "scatter",
	data: { datasets: [polygon(zipPoints([0, 1, 1, 0, 0], [30.49, 30.49, 32.82, 32.82, 30.49]), no3Gradient)] },
	options: {
		responsive: false,
		layout: { padding: { left: 10, top: 51, bottom: 64 } },
		scales: {
			x: hiddenAxis(0, 1),
			y: fixedAxis(no3Ticks, [], {
				position: "right", min: 30.49, max: 32.82,
				afterFit: s => { s.width = 186; },
				ticks: { autoSkip: false, padding: 18, labelOffset: 2.5, font: { size: 44 }, callback: (v, i) => no3Ticks[i].toFixed(1) },
				grid: { drawOnChartArea: false, tickLength: 8, tickColor: "#000", tickWidth: 2 }
			})
		},
		plugins: {
			legend: { display: false }, tooltip: { enabled: false },
			frame: { width: 3, color: "#111" }
		}
	}
});

addBox(370, 774, 40, 40, "background:#000;border-radius:2px;");
addText("open water", 423, 796, 52, { align: "l" });
const xMark = addBox(725, 776, 39, 39, "");
xMark.innerHTML = '<svg width="39" height="39"><path d="M2 2L37 37M37 2L2 37" stroke="#000" stroke-width="5"/></svg>';
addText("sea-ice concentration &gt; 50%", 788, 796, 52, { align: "l" });

addText("Latitude in °S", 118, 1145, 52, { rot: -90 });
addText("Longitude in °E", 1072, 1605, 52);
addText("Surface NO<sub style='font-size:0.62em;vertical-align:-0.25em;line-height:0'>3</sub> in mmol m<sup style='font-size:0.62em;vertical-align:0.6em;line-height:0'>-3</sup>", 2012, 1161, 52, { rot: -90 });

addText("interpolated trajectory", 933, 1015, 37, { rot: 18.2 });
addText("under ice cover", 922, 1056, 37, { rot: 16 });
addText("interpolated trajectory: 247 km", 372, 1265, 41, { align: "l" });
addText("full trajectory: 391 km", 372, 1324, 41, { align: "l" });
addText("ratio: 1.58", 372, 1379, 41, { align: "l" });
addText("days under ice: 231", 372, 1435, 41, { align: "l" });

const noteStyle = { font: "'Open Sans', sans-serif", color: "#6a6a6a" };
addText("re-assigning", 1124, 1193, 21, Object.assign({ align: "r" }, noteStyle));
addText("location", 1124, 1221, 21, Object.assign({ align: "r" }, noteStyle));
addText("re-assigning", 1304, 1115, 21, Object.assign({ align: "l" }, noteStyle));
addText("location", 1304, 1144, 21, Object.assign({ align: "l" }, noteStyle));

// ---------- panel (c) ----------
const lineSeries = [
	[eastAnt, "#6b93d2"], [amundsen, "#b52025"], [ross, "#8970b6"], [weddell, "#000000"]
];
const diffSets = lineSeries.map(s => ({
	data: zipPoints(thresholds, s[0]), showLine: true, fill: false, tension: 0, borderColor: s[1], borderWidth: 5,
	pointRadius: 9, pointBackgroundColor: s[1], pointBorderWidth: 0, clip: false
}));
dashLevels.forEach(level => {
	diffSets.push(strokeLine(zipPoints([0, dashEnd], [level, level]), "#c6c6c6", 2, { borderDash: [14, 11] }));
});

new Chart(addCanvas(0, 1650, 2067, 852), {
	type: "scatter",
	data: { datasets: diffSets },
	options: {
		responsive: false,
		layout: { padding: { top: 59, right: 266 } },
		scales: {
			x: fixedAxis(thresholdTicks, thresholdTicks.map(String), {
				min: 0, max: 100,
				afterFit: s => { s.height = 216; },
				ticks: { autoSkip: false, maxRotation: 0, padding: 12, font: { size: 48 }, callback: (v, i) => String(thresholdTicks[i]) }
			}),
			y: fixedAxis(diffTicks, diffTickLabels, {
				min: 0, max: 45.1,
				afterFit: s => { s.width = 354; },
				ticks: { autoSkip: false, padding: 10, labelOffset: 3, font: { size: 48 }, callback: (v, i) => diffTickLabels[i] }
			})
		},
		plugins: {
			legend: { display: false }, tooltip: { enabled: false },
			frame: { width: 3, color: "#111" }
		}
	}
});

addText("difference in 1-year", 41, 1995, 52, { rot: -90 });
addText("trajectory length in %", 99, 1997, 52, { rot: -90 });
addText("(known vs. unkown position", 153, 1995, 37, { rot: -90, italic: true });
addText("when ice threshold is exceeded)", 199, 2000, 37.4, { rot: -90, italic: true });
addText("sea ice concentration threshold in %", 1085, 2413, 52);
addText("(position is unknown if this threshold is exceeded)", 1082, 2462, 37, { italic: true });

// legend, keys made of plain boxes
[
	["Weddell Sea", 1741, "#000000"], ["Ross Sea", 1779, "#8970b6"],
	["Amundsen/Bellingshausen Sea", 1817, "#b52025"], ["East Antarctic", 1856, "#6b93d2"]
].forEach(row => {
	addText(row[0], 1706, row[1], 30, { align: "r" });
	addBox(1722, row[1] - 3, 57, 6, `background:${row[2]};`);
	addBox(1740.5, row[1] - 9.5, 19, 19, `background:${row[2]};border-radius:50%;`);
});

// inset map of the four basins
const insetScaleX = 0.78, insetScaleY = 0.87, insetShiftX = 3, insetShiftY = -1.5;
const insetBasins = [[blackLon, blackR, "#000000"], [eastLon, eastR, "#6b93d2"], [redLon, redR, "#b52025"], [purpleLon, purpleR, "#8970b6"]];
const insetSets = [strokeLine(closeLoop(circlePoints(100)), "#999", 1.5)];
insetBasins.forEach(b => insetSets.push({
	data: polarPoints(b[0], b[1]), pointRadius: 1.9, pointBackgroundColor: b[2], pointBorderWidth: 0, clip: false
}));
insetSets.push(polygon(landX.map((x, i) => ({ x: x * insetScaleX + insetShiftX, y: landY[i] * insetScaleY + insetShiftY })), "#808080"));
insetSets.push(polygon(zipPoints(tipX, tipY), "#707070"));
new Chart(addCanvas(1520, 1893, 252, 250), {
	type: "scatter",
	data: { datasets: insetSets },
	options: {
		responsive: false,
		layout: { padding: 4 },
		scales: { x: hiddenAxis(-100, 100), y: hiddenAxis(-100, 100) },
		plugins: { legend: { display: false }, tooltip: { enabled: false } }
	}
});
[
	["0°", 1649, 1886, "c"], ["60°W", 1540, 1954, "r"], ["60°E", 1755, 1954, "l"],
	["120°W", 1537, 2088, "r"], ["120°E", 1751, 2088, "l"], ["180°", 1646, 2150, "c"]
].forEach(t => addText(t[0], t[1], t[2], 19.5, { align: t[3] }));
</script>
</body>
</html>
